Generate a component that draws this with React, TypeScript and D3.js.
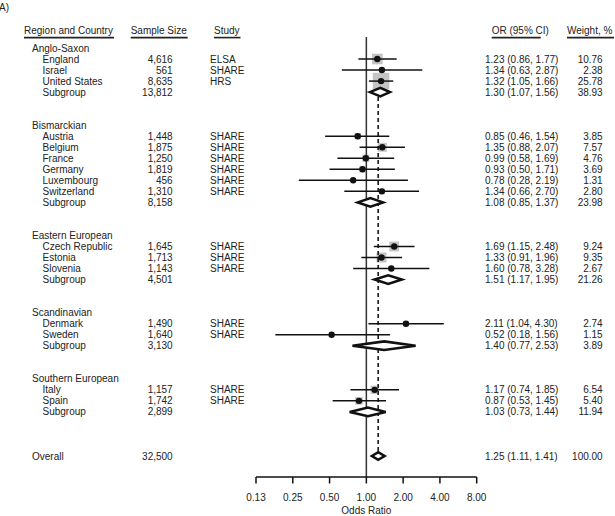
import React from "react";
import * as d3 from "d3";

// ---- data ----
const rowIndex = [0, 1, 2, 3, 4, 7, 8, 9, 10, 11, 12, 13, 14, 17, 18, 19, 20, 21, 24, 25, 26, 27, 30, 31, 32, 33, 37];
const rowKind = ["group", "study", "study", "study", "sub", "group", "study", "study", "study", "study", "study", "study", "sub", "group", "study", "study", "study", "sub", "group", "study", "study", "sub", "group", "study", "study", "sub", "overall"];
const rowLabel = ["Anglo-Saxon", "England", "Israel", "United States", "Subgroup", "Bismarckian", "Austria", "Belgium", "France", "Germany", "Luxembourg", "Switzerland", "Subgroup", "Eastern European", "Czech Republic", "Estonia", "Slovenia", "Subgroup", "Scandinavian", "Denmark", "Sweden", "Subgroup", "Southern European", "Italy", "Spain", "Subgroup", "Overall"];
const sampleSize = ["", "4,616", "561", "8,635", "13,812", "", "1,448", "1,875", "1,250", "1,819", "456", "1,310", "8,158", "", "1,645", "1,713", "1,143", "4,501", "", "1,490", "1,640", "3,130", "", "1,157", "1,742", "2,899", "32,500"];
const study = ["", "ELSA", "SHARE", "HRS", "", "", "SHARE", "SHARE", "SHARE", "SHARE", "SHARE", "SHARE", "", "", "SHARE", "SHARE", "SHARE", "", "", "SHARE", "SHARE", "", "", "SHARE", "SHARE", "", ""];
const orValue = [NaN, 1.23, 1.34, 1.32, 1.30, NaN, 0.85, 1.35, 0.99, 0.93, 0.78, 1.34, 1.08, NaN, 1.69, 1.33, 1.60, 1.51, NaN, 2.11, 0.52, 1.40, NaN, 1.17, 0.87, 1.03, 1.25];
const ciLow = [NaN, 0.86, 0.63, 1.05, 1.07, NaN, 0.46, 0.88, 0.58, 0.50, 0.28, 0.66, 0.85, NaN, 1.15, 0.91, 0.78, 1.17, NaN, 1.04, 0.18, 0.77, NaN, 0.74, 0.53, 0.73, 1.11];
const ciHigh = [NaN, 1.77, 2.87, 1.66, 1.56, NaN, 1.54, 2.07, 1.69, 1.71, 2.19, 2.70, 1.37, NaN, 2.48, 1.96, 3.28, 1.95, NaN, 4.30, 1.56, 2.53, NaN, 1.85, 1.45, 1.44, 1.41];
const weight = [NaN, 10.76, 2.38, 25.78, 38.93, NaN, 3.85, 7.57, 4.76, 3.69, 1.31, 2.80, 23.98, NaN, 9.24, 9.35, 2.67, 21.26, NaN, 2.74, 1.15, 3.89, NaN, 6.54, 5.40, 11.94, 100.0];
const tickValues = [0.125, 0.25, 0.5, 1, 2, 4, 8];
const tickLabels = ["0.13", "0.25", "0.50", "1.00", "2.00", "4.00", "8.00"];
const headers = ["Region and Country", "Sample Size", "Study", "OR (95% CI)", "Weight, %"];
const overallOR = 1.25;

const FONT = "'Liberation Sans', Arial, Helvetica, sans-serif";
const INK = "#222";

export default function App() {
  const x = d3.scaleLog().base(2).domain([0.125, 8]).range([256, 476.7]);
  const y = d3.scaleLinear().domain([0, 37]).range([48, 456]);
  const sq = d3.scaleSqrt().domain([0, 25.78]).range([0, 16.5]);
  const axisY = 477;
  const f2 = d3.format(".2f");

  const headerX = [24, 130.7, 214, 491.7, 567];
  const headerW = [90, 57, 26.5, 49, 47];

  const diamond = (i: number) => {
    const yy = y(rowIndex[i]);
    const h = rowKind[i] === "overall" ? 3.8 : 4.3;
    return `M${x(ciLow[i])},${yy} L${x(orValue[i])},${yy - h} L${x(ciHigh[i])},${yy} L${x(orValue[i])},${yy + h} Z`;
  };

  return (
    <svg width={615} height={516} style={{ position: "absolute", left: 0, top: 0 }} fontFamily={FONT} fontSize={10} fill={INK}>
      <rect width={615} height={516} fill="#fff" />
      <text x={-1} y={11}>A)</text>
      {headers.map((h, i) => (
        <g key={h}>
          <text x={headerX[i]} y={30} dy="0.35em">{h}</text>
          <line x1={headerX[i]} x2={headerX[i] + headerW[i]} y1={37.6} y2={37.6} stroke={INK} strokeWidth={1.6} />
        </g>
      ))}

      {/* text columns */}
      {rowLabel.map((lab, i) => {
        const yy = y(rowIndex[i]);
        const kind = rowKind[i];
        const lx = kind === "group" || kind === "overall" ? 32 : 42.5;
        return (
          <g key={i}>
            <text x={lx} y={yy} dy="0.35em">{lab}</text>
            {sampleSize[i] && <text x={172.7} y={yy} dy="0.35em" textAnchor="end">{sampleSize[i]}</text>}
            {study[i] && <text x={210} y={yy} dy="0.35em">{study[i]}</text>}
            {!isNaN(orValue[i]) && (
              <text x={485} y={yy} dy="0.35em">{`${f2(orValue[i])} (${f2(ciLow[i])}, ${f2(ciHigh[i])})`}</text>
            )}
            {!isNaN(weight[i]) && <text x={602.7} y={yy} dy="0.35em" textAnchor="end">{f2(weight[i])}</text>}
          </g>
        );
      })}

      {/* squares */}
      {rowLabel.map((_, i) =>
        rowKind[i] === "study" ? (
          <rect key={"s" + i} x={x(orValue[i]) - sq(weight[i]) / 2} y={y(rowIndex[i]) - sq(weight[i]) / 2}
            width={sq(weight[i])} height={sq(weight[i])} fill="#c4c4c4" />
        ) : null
      )}

      {/* reference line at 1 */}
      <line x1={x(1)} x2={x(1)} y1={37} y2={axisY} stroke="#333" strokeWidth={1.5} />
      {/* dashed overall line */}
      <line x1={x(overallOR)} x2={x(overallOR)} y1={y(4) + 5} y2={y(37) - 4} stroke="#222" strokeWidth={1.7} strokeDasharray="4,3" />

      {/* CIs and points */}
      {rowLabel.map((_, i) =>
        rowKind[i] === "study" ? (
          <g key={"c" + i}>
            <line x1={x(ciLow[i])} x2={x(ciHigh[i])} y1={y(rowIndex[i])} y2={y(rowIndex[i])} stroke="#111" strokeWidth={1.5} />
            <circle cx={x(orValue[i])} cy={y(rowIndex[i])} r={3.2} fill="#111" />
          </g>
        ) : null
      )}

      {/* diamonds */}
      {rowLabel.map((_, i) =>
        rowKind[i] === "sub" || rowKind[i] === "overall" ? (
          <path key={"d" + i} d={diamond(i)} fill="#fff" stroke="#111" strokeWidth={2.6} strokeLinejoin="miter" />
        ) : null
      )}

      {/* axis */}
      <line x1={x(0.125)} x2={x(8)} y1={axisY} y2={axisY} stroke="#111" strokeWidth={1.5} />
      {tickValues.map((t, i) => (
        <g key={t}>
          <line x1={x(t)} x2={x(t)} y1={axisY} y2={axisY + 6.5} stroke="#111" strokeWidth={1.5} />
          <text x={x(t)} y={497} dy="0.35em" textAnchor="middle">{tickLabels[i]}</text>
        </g>
      ))}
      <text x={x(1)} y={510} dy="0.35em" textAnchor="middle">Odds Ratio</text>
    </svg>
  );
}
